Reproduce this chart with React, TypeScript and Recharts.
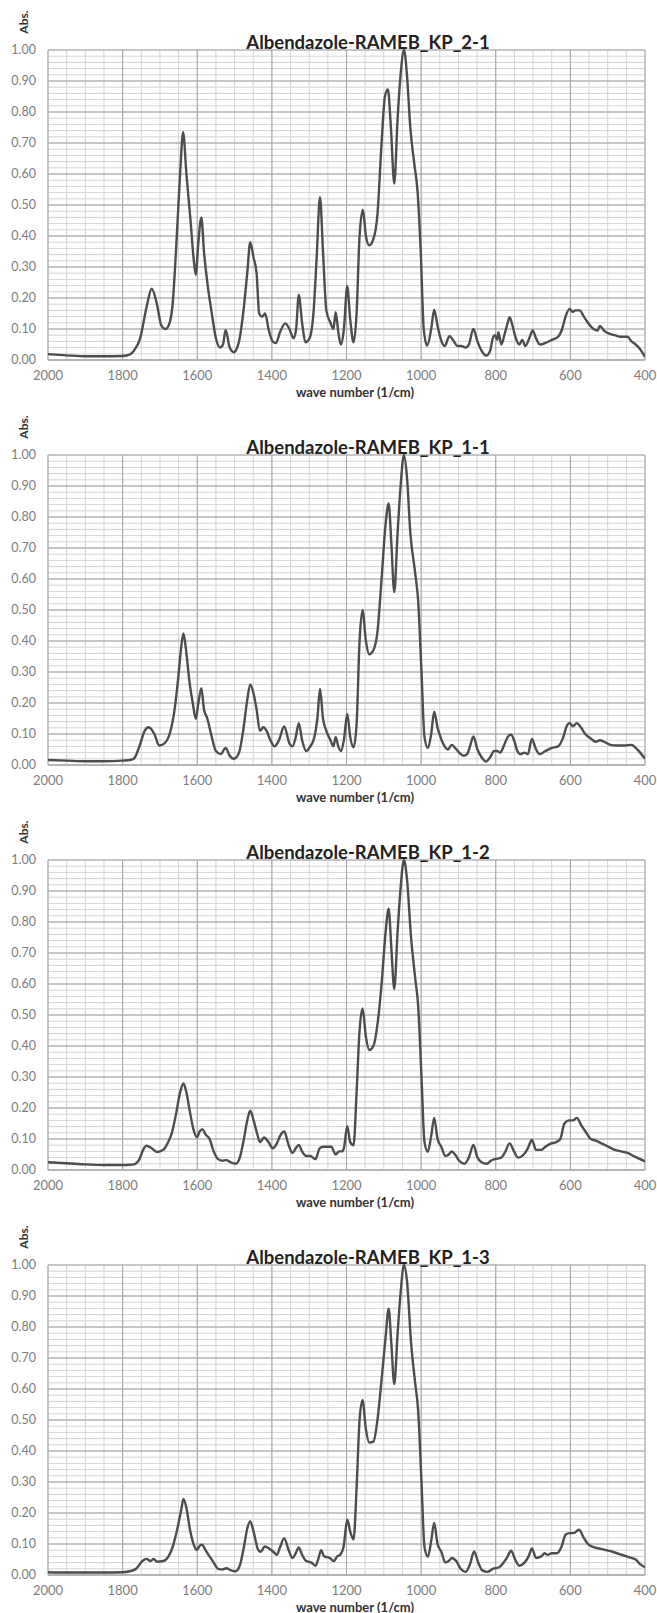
import React from 'react';
import { LineChart, Line, XAxis, YAxis, CartesianGrid } from 'recharts';

// wave numbers (1/cm) and absorbance
const wn21 = [
  2000, 1950, 1900, 1850, 1800, 1780, 1770, 1753, 1736, 1722,
  1708, 1696, 1685, 1674, 1666, 1657, 1646, 1638, 1629, 1618,
  1610, 1604, 1597, 1589, 1582, 1573, 1561, 1550, 1539, 1531,
  1524, 1513, 1502, 1488, 1477, 1466, 1458, 1449, 1441, 1434,
  1426, 1418, 1409, 1398, 1389, 1378, 1364, 1353, 1342, 1335,
  1328, 1319, 1310, 1299, 1288, 1280, 1271, 1263, 1254, 1243,
  1235, 1229, 1222, 1215, 1207, 1198, 1190, 1181, 1173, 1165,
  1156, 1148, 1139, 1128, 1117, 1106, 1097, 1089, 1081, 1072,
  1063, 1055, 1046, 1038, 1029, 1018, 1010, 1001, 993, 984,
  973, 965, 956, 948, 937, 924, 912, 903, 892, 881,
  872, 860, 849, 838, 826, 815, 808, 802, 796, 793,
  785, 777, 768, 763, 755, 746, 737, 729, 721, 710,
  701, 692, 682, 667, 650, 633, 622, 613, 602, 594,
  587, 575, 564, 553, 538, 527, 521, 510, 496, 481,
  464, 447, 436, 425, 413, 400,
];
const abs21 = [
  0.019, 0.015, 0.012, 0.012, 0.013, 0.018, 0.03, 0.07, 0.17, 0.23,
  0.18, 0.11, 0.10, 0.12, 0.18, 0.35, 0.60, 0.735, 0.60, 0.45,
  0.33, 0.275, 0.38, 0.46, 0.35, 0.25, 0.15, 0.07, 0.04, 0.05,
  0.097, 0.04, 0.025, 0.06, 0.15, 0.28, 0.38, 0.33, 0.28, 0.15,
  0.14, 0.15, 0.10, 0.06, 0.055, 0.09, 0.118, 0.10, 0.07, 0.10,
  0.21, 0.12, 0.057, 0.07, 0.16, 0.33, 0.525, 0.35, 0.16, 0.12,
  0.10, 0.154, 0.09, 0.05, 0.10, 0.238, 0.13, 0.057, 0.15, 0.40,
  0.485, 0.40, 0.37, 0.39, 0.47, 0.70, 0.85, 0.873, 0.75, 0.569,
  0.78, 0.92, 1.00, 0.92, 0.75, 0.63, 0.55, 0.35, 0.10, 0.046,
  0.10, 0.162, 0.11, 0.07, 0.045, 0.077, 0.06, 0.045, 0.045, 0.04,
  0.05, 0.10, 0.06, 0.03, 0.014, 0.03, 0.07, 0.08, 0.065, 0.09,
  0.05, 0.08, 0.12, 0.138, 0.11, 0.07, 0.05, 0.065, 0.045, 0.07,
  0.095, 0.07, 0.05, 0.055, 0.065, 0.075, 0.10, 0.14, 0.165, 0.155,
  0.16, 0.16, 0.14, 0.12, 0.10, 0.095, 0.11, 0.095, 0.085, 0.08,
  0.075, 0.075, 0.06, 0.05, 0.035, 0.01,
];

const wn11 = [
  2000, 1950, 1900, 1850, 1800, 1780, 1770, 1755, 1741, 1730,
  1715, 1702, 1688, 1674, 1663, 1651, 1643, 1637, 1629, 1621,
  1612, 1604, 1597, 1589, 1582, 1573, 1561, 1550, 1537, 1524,
  1513, 1502, 1488, 1477, 1466, 1458, 1449, 1441, 1432, 1423,
  1414, 1404, 1393, 1381, 1367, 1353, 1345, 1336, 1328, 1319,
  1308, 1297, 1286, 1278, 1271, 1263, 1254, 1243, 1235, 1229,
  1222, 1215, 1207, 1198, 1190, 1181, 1173, 1165, 1157, 1148,
  1139, 1128, 1117, 1106, 1095, 1087, 1080, 1072, 1063, 1055,
  1046, 1038, 1029, 1016, 1008, 999, 991, 982, 973, 965,
  956, 948, 937, 928, 918, 909, 898, 886, 877, 869,
  860, 849, 838, 826, 815, 804, 796, 788, 779, 768,
  759, 751, 742, 734, 723, 714, 703, 692, 682, 667,
  650, 633, 619, 610, 602, 593, 583, 571, 560, 545,
  532, 521, 510, 493, 476, 454, 436, 425, 413, 400,
];
const abs11 = [
  0.016, 0.014, 0.012, 0.012, 0.014, 0.016, 0.02, 0.06, 0.11, 0.122,
  0.10, 0.063, 0.07, 0.10, 0.16, 0.28, 0.38, 0.424, 0.36, 0.27,
  0.20, 0.149, 0.20, 0.248, 0.18, 0.15, 0.09, 0.045, 0.035, 0.055,
  0.03, 0.02, 0.04, 0.11, 0.21, 0.26, 0.23, 0.18, 0.11, 0.122,
  0.11, 0.08, 0.06, 0.08, 0.124, 0.07, 0.06, 0.09, 0.135, 0.08,
  0.045, 0.06, 0.09, 0.15, 0.245, 0.15, 0.11, 0.08, 0.06, 0.09,
  0.06, 0.045, 0.08, 0.165, 0.09, 0.057, 0.13, 0.40, 0.499, 0.40,
  0.357, 0.37, 0.43, 0.60, 0.78, 0.844, 0.72, 0.558, 0.75, 0.90,
  1.00, 0.93, 0.75, 0.62, 0.53, 0.30, 0.09, 0.055, 0.10, 0.172,
  0.12, 0.09, 0.06, 0.05, 0.065, 0.055, 0.04, 0.03, 0.035, 0.06,
  0.092, 0.05, 0.025, 0.011, 0.025, 0.045, 0.045, 0.04, 0.06, 0.09,
  0.098, 0.08, 0.045, 0.035, 0.04, 0.035, 0.084, 0.05, 0.035, 0.045,
  0.055, 0.06, 0.09, 0.125, 0.135, 0.125, 0.135, 0.12, 0.10, 0.085,
  0.075, 0.08, 0.075, 0.065, 0.063, 0.063, 0.065, 0.055, 0.04, 0.02,
];

const wn12 = [
  2000, 1950, 1900, 1850, 1800, 1780, 1770, 1755, 1745, 1736,
  1722, 1708, 1691, 1680, 1668, 1657, 1646, 1637, 1629, 1620,
  1610, 1601, 1593, 1586, 1578, 1567, 1556, 1544, 1533, 1522,
  1511, 1497, 1486, 1475, 1466, 1458, 1449, 1440, 1432, 1421,
  1409, 1398, 1387, 1378, 1367, 1355, 1345, 1336, 1328, 1319,
  1308, 1297, 1283, 1272, 1263, 1252, 1241, 1229, 1220, 1212,
  1207, 1198, 1190, 1181, 1173, 1165, 1157, 1148, 1139, 1128,
  1117, 1106, 1095, 1087, 1080, 1072, 1063, 1055, 1046, 1038,
  1027, 1016, 1008, 999, 991, 982, 973, 965, 956, 946,
  935, 926, 918, 909, 898, 884, 872, 860, 849, 838,
  824, 813, 802, 785, 774, 763, 751, 740, 725, 714,
  703, 692, 678, 667, 653, 638, 627, 616, 604, 593,
  583, 571, 560, 545, 532, 515, 498, 481, 464, 447,
  430, 413, 400,
];
const abs12 = [
  0.025, 0.022, 0.018, 0.016, 0.016, 0.017, 0.018, 0.035, 0.065, 0.078,
  0.07, 0.058, 0.065, 0.085, 0.12, 0.18, 0.25, 0.279, 0.25, 0.19,
  0.13, 0.106, 0.125, 0.132, 0.115, 0.10, 0.06, 0.035, 0.03, 0.032,
  0.025, 0.02, 0.04, 0.10, 0.16, 0.191, 0.16, 0.12, 0.09, 0.105,
  0.09, 0.07, 0.085, 0.11, 0.124, 0.08, 0.055, 0.07, 0.081, 0.06,
  0.045, 0.045, 0.035, 0.07, 0.075, 0.075, 0.075, 0.05, 0.06, 0.06,
  0.07, 0.141, 0.09, 0.08, 0.25, 0.45, 0.521, 0.43, 0.387, 0.40,
  0.47, 0.60, 0.77, 0.843, 0.72, 0.584, 0.77, 0.91, 1.00, 0.94,
  0.75, 0.62, 0.53, 0.30, 0.09, 0.059, 0.11, 0.168, 0.10, 0.075,
  0.045, 0.05, 0.06, 0.05, 0.03, 0.02, 0.04, 0.081, 0.04, 0.025,
  0.02, 0.03, 0.035, 0.04, 0.06, 0.086, 0.06, 0.04, 0.05, 0.07,
  0.097, 0.065, 0.065, 0.075, 0.085, 0.09, 0.10, 0.15, 0.16, 0.16,
  0.168, 0.145, 0.125, 0.10, 0.095, 0.085, 0.075, 0.065, 0.06, 0.055,
  0.045, 0.035, 0.028,
];

const wn13 = [
  2000, 1950, 1900, 1850, 1800, 1781, 1764, 1747, 1736, 1725,
  1717, 1708, 1691, 1677, 1666, 1655, 1643, 1637, 1628, 1620,
  1610, 1601, 1593, 1587, 1578, 1567, 1556, 1544, 1533, 1522,
  1511, 1497, 1486, 1475, 1466, 1458, 1449, 1438, 1430, 1419,
  1407, 1396, 1387, 1378, 1367, 1355, 1345, 1336, 1328, 1319,
  1308, 1294, 1283, 1276, 1268, 1260, 1245, 1234, 1225, 1217,
  1208, 1198, 1190, 1181, 1173, 1165, 1157, 1148, 1139, 1128,
  1117, 1106, 1095, 1087, 1080, 1072, 1063, 1055, 1046, 1038,
  1027, 1016, 1008, 999, 991, 982, 973, 965, 956, 946,
  935, 926, 917, 906, 894, 881, 869, 858, 847, 836,
  822, 808, 791, 779, 768, 759, 748, 737, 723, 712,
  703, 692, 678, 669, 661, 650, 636, 624, 613, 602,
  591, 577, 564, 553, 538, 521, 504, 487, 470, 454,
  436, 425, 413, 400,
];
const abs13 = [
  0.009, 0.008, 0.008, 0.008, 0.009, 0.012, 0.02, 0.045, 0.052, 0.045,
  0.052, 0.043, 0.045, 0.06, 0.09, 0.14, 0.21, 0.245, 0.21, 0.15,
  0.10, 0.081, 0.095, 0.098, 0.08, 0.06, 0.04, 0.02, 0.018, 0.022,
  0.016, 0.012, 0.03, 0.09, 0.15, 0.173, 0.14, 0.085, 0.075, 0.092,
  0.085, 0.075, 0.065, 0.09, 0.119, 0.08, 0.055, 0.07, 0.089, 0.065,
  0.045, 0.04, 0.03, 0.05, 0.08, 0.06, 0.055, 0.045, 0.06, 0.065,
  0.09, 0.178, 0.14, 0.115, 0.28, 0.50, 0.564, 0.47, 0.427, 0.43,
  0.50, 0.63, 0.77, 0.859, 0.75, 0.616, 0.78, 0.91, 1.00, 0.95,
  0.75, 0.62, 0.53, 0.30, 0.09, 0.059, 0.11, 0.168, 0.10, 0.075,
  0.04, 0.045, 0.055, 0.045, 0.02, 0.01, 0.035, 0.076, 0.04, 0.015,
  0.01, 0.02, 0.025, 0.04, 0.06, 0.078, 0.05, 0.03, 0.04, 0.06,
  0.086, 0.055, 0.06, 0.07, 0.065, 0.07, 0.07, 0.09, 0.13, 0.135,
  0.135, 0.146, 0.12, 0.10, 0.09, 0.085, 0.08, 0.075, 0.068, 0.062,
  0.055, 0.05, 0.035, 0.025,
];

const titles = [
  'Albendazole-RAMEB_KP_2-1',
  'Albendazole-RAMEB_KP_1-1',
  'Albendazole-RAMEB_KP_1-2',
  'Albendazole-RAMEB_KP_1-3',
];

const xTicks = [2000, 1800, 1600, 1400, 1200, 1000, 800, 600, 400];
const yTicks = [0, 0.1, 0.2, 0.3, 0.4, 0.5, 0.6, 0.7, 0.8, 0.9, 1.0];

// minor grid every 50 cm-1 and every 0.02 abs
const xMinor = Array.from({ length: 33 }, (_, i) => 400 + i * 50);
const yMinor = Array.from({ length: 51 }, (_, i) => +(i * 0.02).toFixed(2));

const FONT = 'Lato, "Open Sans", sans-serif';
const PANEL_H = 405;

const Panel = ({ title, wn, ab }: { title: string; wn: number[]; ab: number[] }) => {
  const data = wn.map((w, i) => ({ w, a: ab[i] }));
  return (
    <div style={{ position: 'relative', width: 657, height: PANEL_H }}>
      <LineChart width={657} height={PANEL_H} data={data} margin={{ top: 50, right: 12, left: 0, bottom: 0 }}>
        {/* hidden axes only carry the minor grid ticks */}
        <XAxis xAxisId="minor" dataKey="w" type="number" domain={[400, 2000]} reversed ticks={xMinor} interval={0} allowDataOverflow hide />
        <YAxis yAxisId="minor" type="number" domain={[0, 1]} ticks={yMinor} interval={0} allowDataOverflow hide />
        <CartesianGrid xAxisId="minor" yAxisId="minor" stroke="#d4d4d4" strokeWidth={1} />
        <CartesianGrid stroke="#a3a3a3" strokeWidth={1} />
        <XAxis
          dataKey="w"
          type="number"
          domain={[400, 2000]}
          reversed
          ticks={xTicks}
          interval={0}
          allowDataOverflow
          height={45}
          tickSize={0}
          tickMargin={11}
          axisLine={{ stroke: '#a3a3a3' }}
          tick={{ fontSize: 13, fill: '#7d7d7d', fontFamily: FONT }}
        />
        <YAxis
          type="number"
          domain={[0, 1]}
          ticks={yTicks}
          interval={0}
          width={48}
          tickSize={0}
          tickMargin={12}
          axisLine={false}
          tickFormatter={(v: number) => v.toFixed(2)}
          tick={{ fontSize: 12.5, fill: '#7d7d7d', fontFamily: FONT }}
        />
        <Line type="monotone" dataKey="a" stroke="#4d4d4d" strokeWidth={2.4} dot={false} isAnimationActive={false} />
      </LineChart>
      <div style={{ position: 'absolute', left: 168, top: 32, width: 400, textAlign: 'center', fontFamily: FONT, fontWeight: 700, fontSize: 18.5, color: '#222', lineHeight: '20px' }}>
        {title}
      </div>
      <div style={{ position: 'absolute', left: 255, top: 385, width: 200, textAlign: 'center', fontFamily: FONT, fontWeight: 700, fontSize: 13, color: '#333', lineHeight: '15px' }}>
        wave number (1/cm)
      </div>
      <div style={{ position: 'absolute', left: 4, top: 15, width: 40, textAlign: 'center', transform: 'rotate(-90deg)', fontFamily: FONT, fontWeight: 700, fontSize: 12, color: '#333', lineHeight: '14px' }}>
        Abs.
      </div>
    </div>
  );
};

export default function App() {
  return (
    <div style={{ position: 'absolute', left: 0, top: 0, width: 657, height: 1613, background: '#fff' }}>
      <Panel title={titles[0]} wn={wn21} ab={abs21} />
      <Panel title={titles[1]} wn={wn11} ab={abs11} />
      <Panel title={titles[2]} wn={wn12} ab={abs12} />
      <Panel title={titles[3]} wn={wn13} ab={abs13} />
    </div>
  );
}
